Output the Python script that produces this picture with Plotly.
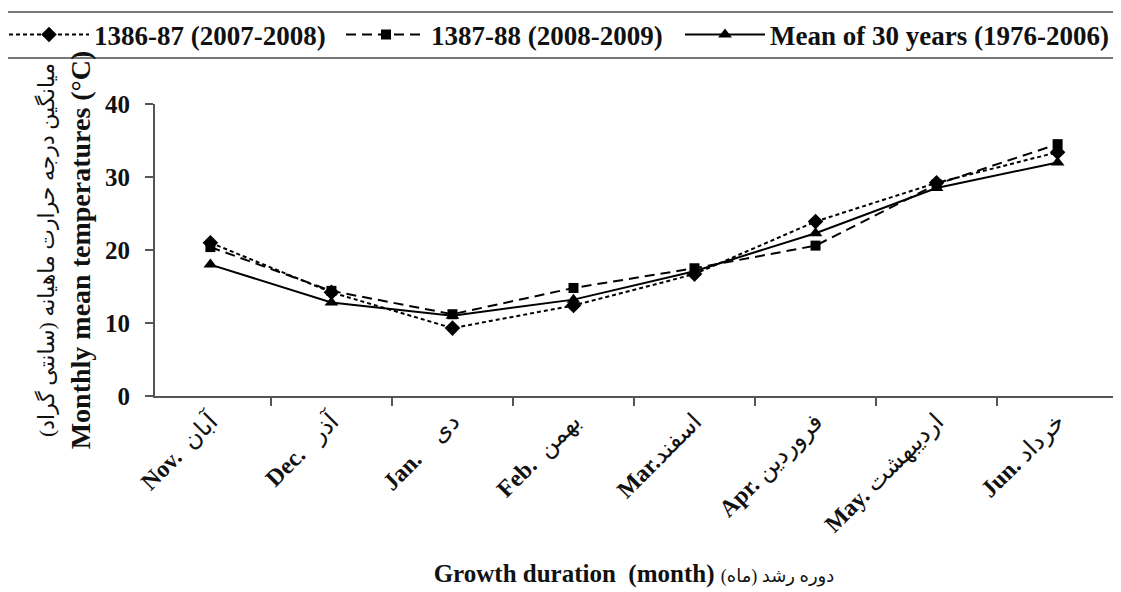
import plotly.graph_objects as go

months = ["<b>Nov.</b>  آبان", "<b>Dec.</b>   آذر", "<b>Jan.</b>    دی", "<b>Feb.</b>  بهمن",
          "<b>Mar.</b>اسفند", "<b>Apr.</b> فروردین", "<b>May.</b> اردیبهشت", "<b>Jun.</b> خرداد"]
s1386 = [21.0, 14.2, 9.3, 12.4, 16.7, 23.9, 29.2, 33.4]
s1387 = [20.4, 14.4, 11.2, 14.8, 17.5, 20.6, 29.0, 34.5]
mean30 = [18.0, 12.8, 11.0, 13.2, 17.1, 22.3, 28.5, 32.0]
names = ["1386-87 (2007-2008)", "1387-88 (2008-2009)", "Mean of 30 years (1976-2006)"]
yticks = [0, 10, 20, 30, 40]

FONT = "Liberation Serif, Times New Roman, DejaVu Sans, serif"
fig = go.Figure()
fig.add_trace(go.Scatter(x=months, y=s1386, name=names[0], mode="lines+markers", legend="legend",
                         line=dict(color="black", width=2, dash="4px,3px"),
                         marker=dict(symbol="diamond", size=12, color="black")))
fig.add_trace(go.Scatter(x=months, y=s1387, name=names[1], mode="lines+markers", legend="legend2",
                         line=dict(color="black", width=2, dash="10px,6px"),
                         marker=dict(symbol="square", size=10, color="black")))
fig.add_trace(go.Scatter(x=months, y=mean30, name=names[2], mode="lines+markers", legend="legend3",
                         line=dict(color="black", width=2),
                         marker=dict(symbol="triangle-up", size=12, color="black")))

# page is offset by the 8px body margin; helpers take page pixel coordinates
def py(px):
    return (396 - px) / 292.0

def pxx(px):
    return (px - 155) / 958.0

def leg(xpx):
    return dict(orientation="h", x=pxx(xpx), xanchor="left", y=py(35), yanchor="middle",
                font=dict(size=27, family=FONT, color="#111", weight="bold"),
                itemwidth=80, bgcolor="rgba(0,0,0,0)")

fig.update_layout(
    width=1113, height=584,
    margin=dict(l=147, r=8, t=96, b=196, autoexpand=False),
    plot_bgcolor="white", paper_bgcolor="white",
    font=dict(family=FONT, color="#111"),
    showlegend=True,
    legend=leg(4), legend2=leg(341), legend3=leg(680),
    xaxis=dict(showline=True, linecolor="#555", linewidth=2, ticks="outside",
               tickson="boundaries", ticklen=8, tickcolor="#555", tickwidth=2,
               tickangle=-45, tickfont=dict(size=24, family=FONT, color="#111"),
               showgrid=False, zeroline=False,
               title=dict(text="<b>Growth duration  (month)</b> <span style='font-size:18px'>\u202bدوره رشد (ماه)\u202c</span>",
                          font=dict(size=25, family=FONT, color="#111"), standoff=27)),
    yaxis=dict(range=[0, 40], tickvals=yticks, showline=True, linecolor="#555", linewidth=2,
               ticks="outside", ticklen=8, tickcolor="#555", tickwidth=2, ticklabelstandoff=10,
               tickfont=dict(size=25, family=FONT, color="#111", weight="bold"),
               showgrid=False, zeroline=False,
               title=dict(text="<span style='font-size:22px'>میانگین درجه حرارت ماهیانه (سانتی گراد)</span><br><b>Monthly mean temperatures (°C)</b>",
                          font=dict(size=28, family=FONT, color="#111"), standoff=6)),
    shapes=[
        dict(type="line", xref="paper", yref="paper", x0=pxx(5), x1=pxx(1116), y0=py(12), y1=py(12),
             line=dict(color="#777", width=2)),
        dict(type="line", xref="paper", yref="paper", x0=pxx(5), x1=pxx(1116), y0=py(58), y1=py(58),
             line=dict(color="#777", width=2)),
    ],
)

fig.write_html("out.html")
